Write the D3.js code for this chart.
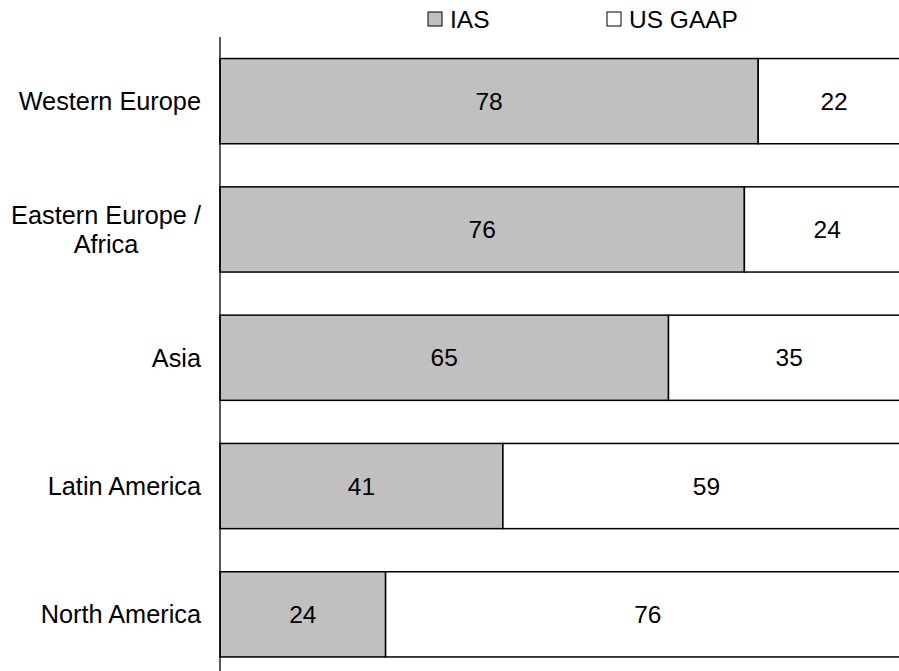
<!DOCTYPE html>
<html>
<head>
<meta charset="utf-8">
<script src="https://cdn.jsdelivr.net/npm/d3@7"></script>
<style>
  body { margin: 0; background: #fff; }
  svg { display: block; font-family: Arial, "Liberation Sans", sans-serif; }
</style>
</head>
<body>
<svg id="chart" width="899" height="671"></svg>
<script>
// data
const regions = ["Western Europe", "Eastern Europe / Africa", "Asia", "Latin America", "North America"];
const regionLines = [["Western Europe"], ["Eastern Europe /", "Africa"], ["Asia"], ["Latin America"], ["North America"]];
const ias = [78, 76, 65, 41, 24];
const usGaap = [22, 24, 35, 59, 76];
const seriesNames = ["IAS", "US GAAP"];
const seriesColors = ["#c0c0c0", "#ffffff"];

const svg = d3.select("#chart");
const left = 220;
const fs = 24.5;

const x = d3.scaleLinear().domain([0, 100]).range([left, left + 690]);
const y = d3.scaleBand().domain(regions).range([37, 37 + 5 * 128.3]).paddingInner(0.336).paddingOuter(0.168);

const rows = regions.map((r, i) => ({ region: r, vals: [ias[i], usGaap[i]] }));

// stacked segments
rows.forEach(row => {
  let start = 0;
  row.vals.forEach((v, k) => {
    svg.append("rect")
      .attr("x", x(start))
      .attr("y", y(row.region))
      .attr("width", x(start + v) - x(start))
      .attr("height", y.bandwidth())
      .attr("fill", seriesColors[k])
      .attr("stroke", "#000")
      .attr("stroke-width", 1.5);
    svg.append("text")
      .attr("x", x(start + v / 2))
      .attr("y", y(row.region) + y.bandwidth() / 2)
      .attr("text-anchor", "middle")
      .attr("dominant-baseline", "central")
      .attr("font-size", fs)
      .attr("fill", "#000")
      .text(v);
    start += v;
  });
});

// vertical axis line
svg.append("line")
  .attr("x1", left).attr("x2", left)
  .attr("y1", 37).attr("y2", 680)
  .attr("stroke", "#000").attr("stroke-width", 1.3);

// category labels
regions.forEach((r, i) => {
  const lines = regionLines[i];
  const cy = y(r) + y.bandwidth() / 2;
  const lh = 29;
  const t = svg.append("text")
    .attr("text-anchor", lines.length > 1 ? "middle" : "end")
    .attr("font-size", 25.3)
    .attr("fill", "#000");
  lines.forEach((ln, j) => {
    t.append("tspan")
      .attr("x", lines.length > 1 ? 106 : 201)
      .attr("y", cy + (j - (lines.length - 1) / 2) * lh)
      .attr("dominant-baseline", "central")
      .text(ln);
  });
});

// legend
const legendX = [428, 607];
seriesNames.forEach((name, k) => {
  svg.append("rect")
    .attr("x", legendX[k]).attr("y", 12)
    .attr("width", 14).attr("height", 14)
    .attr("fill", seriesColors[k])
    .attr("stroke", "#000").attr("stroke-width", 1);
  svg.append("text")
    .attr("x", legendX[k] + 22).attr("y", 19.5)
    .attr("dominant-baseline", "central")
    .attr("font-size", fs)
    .text(name);
});
</script>
</body>
</html>
